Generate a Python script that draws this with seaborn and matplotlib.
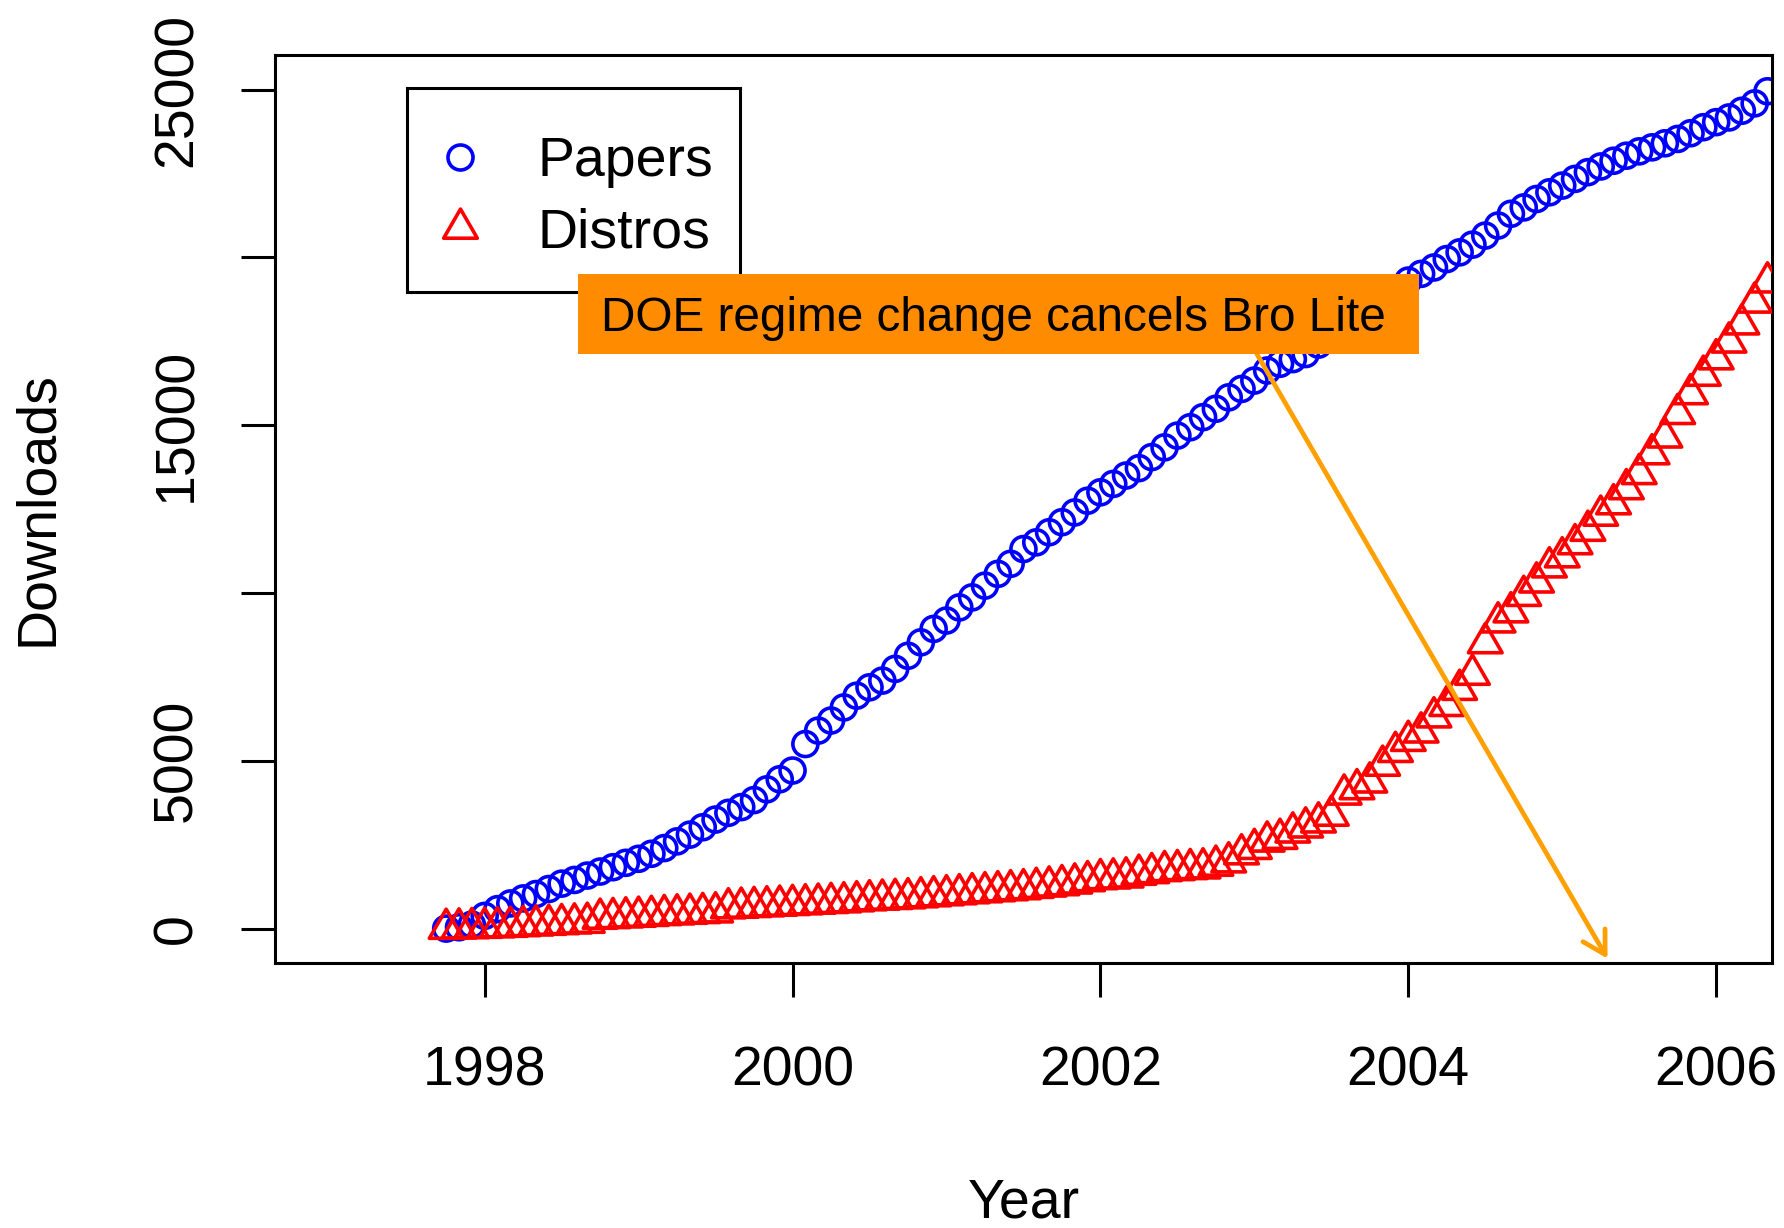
import numpy as np
import pandas as pd
import matplotlib
matplotlib.use("Agg")
import matplotlib.pyplot as plt
from matplotlib.path import Path
from matplotlib.lines import Line2D
from matplotlib.patches import Rectangle
import seaborn as sns

# Cumulative monthly downloads, starting October 1997
first_month = "1997-10"

papers = [
    0, 40, 120, 380, 580, 750, 900, 1030, 1180, 1340, 1450, 1580,
    1700, 1830, 1960, 2080, 2230, 2400, 2600, 2800, 3020, 3250, 3450, 3620,
    3830, 4150, 4450, 4710, 5500, 5900, 6200, 6590, 6940, 7190, 7390, 7740,
    8130, 8530, 8930, 9180, 9570, 9870, 10220, 10570, 10870, 11310, 11510, 11810,
    12110, 12400, 12750, 13000, 13250, 13500, 13720, 14050, 14340, 14690, 14940, 15240,
    15490, 15830, 16080, 16330, 16630, 16830, 16970, 17120, 17400, 17650, 17900, 18150,
    18450, 18750, 19050, 19310, 19510, 19700, 19950, 20150, 20380, 20650, 20950, 21300,
    21490, 21740, 21940, 22140, 22340, 22540, 22710, 22880, 23030, 23160, 23280, 23400,
    23530, 23700, 23880, 24030, 24170, 24370, 24590, 24950,
]

distros = [
    0, 10, 20, 30, 45, 60, 80, 100, 120, 140, 160, 180,
    300, 320, 340, 360, 385, 410, 430, 450, 470, 490, 610, 630,
    650, 670, 690, 710, 730, 750, 770, 790, 820, 850, 870, 890,
    910, 940, 970, 1000, 1030, 1060, 1090, 1120, 1150, 1180, 1220, 1260,
    1300, 1350, 1420, 1480, 1500, 1530, 1610, 1660, 1720, 1750, 1780, 1800,
    1880, 1980, 2220, 2380, 2600, 2680, 2870, 3020, 3170, 3370, 4000, 4160,
    4360, 4860, 5270, 5600, 5850, 6300, 6640, 7120, 7570, 8510, 9130, 9430,
    9920, 10320, 10770, 11070, 11460, 11860, 12310, 12650, 13100, 13550, 14140, 14640,
    15340, 15930, 16480, 16970, 17470, 18010, 18660, 19260,
]

series_names = ["Papers", "Distros"]
series_colors = ["blue", "red"]
x_ticks = [1998, 2000, 2002, 2004, 2006]
y_ticks = [0, 5000, 10000, 15000, 20000, 25000]
y_tick_labels = ["0", "5000", "", "15000", "", "25000"]

note_text = "DOE regime change cancels Bro Lite"
note_box_x = (1998.605, 2004.068)
note_box_y = (17133, 19517)
note_text_pos = (2001.307, 17819)
arrow_start = (2003.015, 17133)
arrow_end = (2005.294, -894)

months = pd.date_range(first_month, periods=len(papers), freq="MS")
year_frac = np.asarray(months.year + (months.month - 1) / 12.0, dtype=float)

df = pd.DataFrame({
    "Year": np.tile(year_frac, 2),
    "Downloads": papers + distros,
    "Series": np.repeat(series_names, len(papers)),
})

sns.set_theme(style="ticks")
plt.rcParams["font.family"] = ["Liberation Sans", "DejaVu Sans"]
plt.rcParams["text.color"] = "black"
plt.rcParams["axes.labelcolor"] = "black"
plt.rcParams["axes.linewidth"] = 2.2

# open triangle centred on its centroid
tri = Path([(0, 1.5551), (1.3468, -0.7776), (-1.3468, -0.7776), (0, 1.5551)], closed=True)
marker_specs = {"Papers": ("o", 18.0), "Distros": (tri, 28.0)}
marker_lw = 2.6

fig = plt.figure(figsize=(17.84, 12.28), dpi=100)
ax = fig.add_axes([275.3 / 1784, 1 - 962.6 / 1228,
                   (1771.6 - 275.3) / 1784, (962.6 - 54.6) / 1228])

for i, (name, col) in enumerate(zip(series_names, series_colors)):
    mk, ms = marker_specs[name]
    sns.scatterplot(data=df[df["Series"] == name], x="Year", y="Downloads",
                    marker=mk, s=ms ** 2, facecolors="none", edgecolor=col,
                    color=col, linewidth=marker_lw, legend=False, ax=ax, zorder=2 + i)

ax.set_xlim(1996.64, 2006.36)
ax.set_ylim(-1013, 26043)
ax.set_xticks(x_ticks)
ax.set_xticklabels([str(t) for t in x_ticks])
ax.set_yticks(y_ticks)
ax.set_yticklabels(y_tick_labels, rotation=90, va="center")

for sp in ax.spines.values():
    sp.set_visible(True)
    sp.set_color("black")
    sp.set_linewidth(2.2)

ax.tick_params(axis="both", direction="out", length=24.5, width=2.2,
               colors="black", labelsize=40)
ax.tick_params(axis="x", pad=35)
ax.tick_params(axis="y", pad=27.3)

ax.set_xlabel("Year", fontsize=40, color="black")
ax.xaxis.set_label_coords(0.5, -0.2802)
ax.xaxis.label.set_va("baseline")
ax.set_ylabel("Downloads", fontsize=40, color="black")
ax.yaxis.set_label_coords(-0.1490, 0.5)
ax.yaxis.label.set_va("baseline")

# legend: frame drawn as its own rectangle, entries placed by ax.legend
ax.add_patch(Rectangle((0.0880, 0.7385), 0.3106 - 0.0880, 0.9632 - 0.7385,
                       transform=ax.transAxes, facecolor="white",
                       edgecolor="black", linewidth=2.2, zorder=5))
handles = [
    Line2D([], [], ls="none", marker=marker_specs[n][0], ms=marker_specs[n][1],
           mfc="none", mec=c, mew=marker_lw)
    for n, c in zip(series_names, series_colors)
]
leg = ax.legend(handles, series_names, loc="upper left",
                bbox_to_anchor=(0.1141, 0.9101), borderaxespad=0, fontsize=40,
                frameon=False, borderpad=0, labelspacing=0.35, handlelength=0.5,
                handletextpad=1.14, handleheight=0.7)
for t in leg.get_texts():
    t.set_color("black")
leg.set_zorder(5.5)

# annotation: filled label box with an arrow pointing to the date
ax.add_patch(Rectangle((note_box_x[0], note_box_y[0]),
                       note_box_x[1] - note_box_x[0], note_box_y[1] - note_box_y[0],
                       facecolor="darkorange", edgecolor="none", zorder=6))
ax.text(note_text_pos[0], note_text_pos[1], note_text, ha="center", va="baseline",
        fontsize=34.4, color="black", zorder=7)
ax.annotate("", xy=arrow_end, xytext=arrow_start, annotation_clip=False,
            arrowprops=dict(arrowstyle="->,head_length=0.4,head_width=0.23",
                            color="#FF9F00", lw=3.4, shrinkA=0, shrinkB=0,
                            mutation_scale=40),
            zorder=4)

fig.savefig("out.png", dpi=100, facecolor="white")
